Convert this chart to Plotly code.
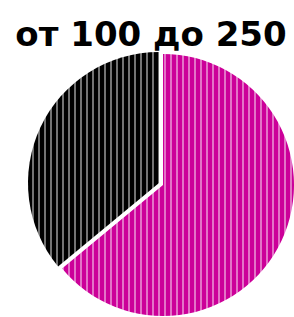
import plotly.graph_objects as go

labels = ["от 100 до 250 — A", "от 100 до 250 — B"]
values = [64, 36]
colors = ["#CC0099", "#000000"]
title_text = "от 100 до 250"

W, H = 294, 317

def dom(cx, cy, r):
    return dict(x=[(cx - r) / W, min((cx + r) / W, 1)],
                y=[max(1 - (cy + r) / H, 0), 1 - (cy - r) / H])

fig = go.Figure()
for i, (cx, cy) in enumerate([(163, 185), (159, 183)]):
    cols = ["rgba(0,0,0,0)"] * len(values)
    cols[i] = colors[i]
    fig.add_trace(go.Pie(
        labels=labels, values=values, sort=False, direction="clockwise",
        rotation=0, textinfo="none", hoverinfo="label+value",
        marker=dict(colors=cols, line=dict(width=0),
                    pattern=dict(shape=["|" if j == i else "" for j in range(len(values))],
                                 fgcolor="white", size=6, solidity=0.3,
                                 fillmode="overlay")),
        domain=dom(cx, cy, 131), showlegend=False,
    ))

fig.update_layout(
    width=W, height=H, margin=dict(l=0, r=0, t=0, b=0),
    paper_bgcolor="white", plot_bgcolor="white",
    title=dict(text="<b>" + title_text + "</b>", x=151 / W, xanchor="center",
               y=1 - 34 / H, yanchor="middle", yref="container",
               font=dict(family="DejaVu Sans", size=34, color="black")),
)
fig.write_html("out.html", config={"displayModeBar": False},
               post_script="document.body.style.margin='0';document.body.style.overflow='hidden';")
